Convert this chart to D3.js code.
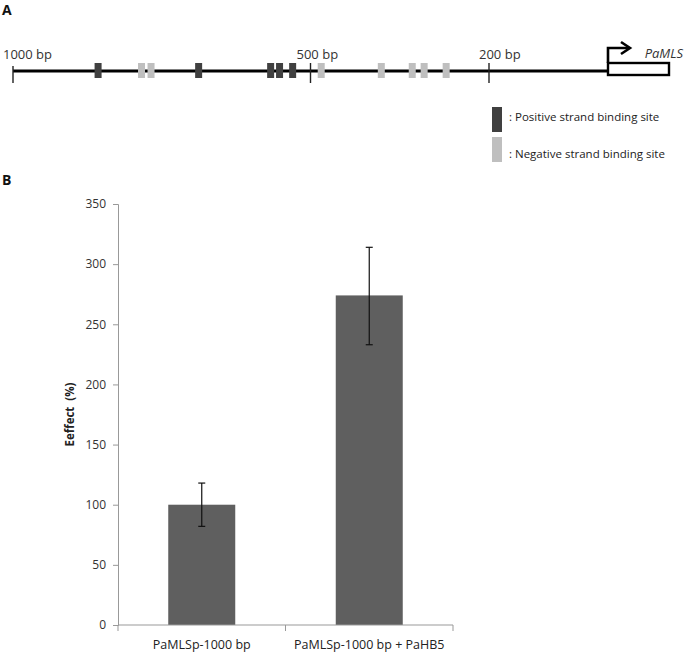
<!DOCTYPE html>
<html>
<head>
<meta charset="utf-8">
<script src="https://cdn.jsdelivr.net/npm/d3@7"></script>
<style>
  body { margin: 0; background: #fff; }
  svg { display: block; font-family: "Open Sans", sans-serif; }
</style>
</head>
<body>
<svg id="chart" width="685" height="653"></svg>
<script>
// panel A: promoter map (positions in bp upstream of the start)
const mapTicks = [1000, 500, 200];
const positiveSites = [857, 688, 567, 552, 530];
const negativeSites = [784, 768, 482, 381, 329, 309, 272];
const legendLabels = [': Positive strand binding site', ': Negative strand binding site'];

// panel B: bar chart
const categories = ['PaMLSp-1000 bp', 'PaMLSp-1000 bp + PaHB5'];
const effect = [100, 274];
const errLow = [18, 41];
const errHigh = [18, 40];
const yTicks = [0, 50, 100, 150, 200, 250, 300, 350];

const svg = d3.select('#chart');
const darkSite = '#404040', lightSite = '#bfbfbf';

// ---------- A ----------
svg.append('text').attr('x', 2).attr('y', 15)
  .attr('font-weight', 'bold').attr('font-size', 14).attr('fill', '#111').text('A');

const bp = d3.scaleLinear().domain([1000, 0]).range([13, 608]);
const lineY = 71;

svg.append('line')
  .attr('x1', bp(1000)).attr('x2', bp(0))
  .attr('y1', lineY).attr('y2', lineY)
  .attr('stroke', '#000').attr('stroke-width', 2.8);

const sites = positiveSites.map(p => ({ p, c: darkSite }))
  .concat(negativeSites.map(p => ({ p, c: lightSite })));
svg.selectAll('.site').data(sites).join('rect')
  .attr('class', 'site')
  .attr('x', d => bp(d.p) - 3.5).attr('y', lineY - 8)
  .attr('width', 7).attr('height', 15)
  .attr('fill', d => d.c);

// label offsets as placed in the figure
const labelShift = [-10, -14, -10];
const tk = svg.selectAll('.bpTick').data(mapTicks).join('g')
  .attr('class', 'bpTick')
  .attr('transform', d => `translate(${bp(d)},0)`);
tk.append('line').attr('y1', (d, i) => i === 0 ? lineY - 5 : lineY - 8).attr('y2', lineY + 12)
  .attr('stroke', '#222').attr('stroke-width', 1.4);
tk.append('text').attr('y', 59)
  .attr('dx', (d, i) => labelShift[i])
  .attr('font-size', 13).attr('fill', '#333')
  .text(d => d + ' bp');

// promoter box and arrow
const x0 = bp(0);
svg.append('rect').attr('x', x0).attr('y', lineY - 8)
  .attr('width', 61).attr('height', 12)
  .attr('fill', '#fff').attr('stroke', '#000').attr('stroke-width', 2.4);
svg.append('path')
  .attr('d', `M${x0},${lineY - 8}V${lineY - 23}H${x0 + 20}`)
  .attr('fill', 'none').attr('stroke', '#000').attr('stroke-width', 2.6);
svg.append('path')
  .attr('d', `M${x0 + 13},${lineY - 29}L${x0 + 22},${lineY - 23}L${x0 + 13},${lineY - 17}`)
  .attr('fill', 'none').attr('stroke', '#000').attr('stroke-width', 2.6);
svg.append('text').attr('x', 683).attr('y', 58)
  .attr('text-anchor', 'end').attr('font-style', 'italic')
  .attr('font-size', 13).attr('fill', '#333').text('PaMLS');

// legend
const lg = svg.selectAll('.lg').data(legendLabels).join('g')
  .attr('class', 'lg')
  .attr('transform', (d, i) => `translate(492,${107 + i * 30})`);
lg.append('rect').attr('width', 10).attr('height', 25)
  .attr('fill', (d, i) => i === 0 ? darkSite : lightSite);
lg.append('text').attr('x', 17).attr('y', (d, i) => i === 0 ? 14 : 21)
  .attr('font-size', 11.5).attr('fill', '#222').text(d => d);

// ---------- B ----------
svg.append('text').attr('x', 2).attr('y', 185)
  .attr('font-weight', 'bold').attr('font-size', 14).attr('fill', '#111').text('B');

const m = { left: 118, right: 453, top: 204, bottom: 625 };
const x = d3.scaleBand().domain(categories).range([m.left, m.right])
  .paddingInner(0.6).paddingOuter(0.3);
const y = d3.scaleLinear().domain([0, 350]).range([m.bottom, m.top]);
const axisColor = '#999';

const yAx = svg.append('g').attr('transform', `translate(${m.left},0)`)
  .call(d3.axisLeft(y).tickValues(yTicks).tickSize(5).tickPadding(7));
yAx.selectAll('path,line').attr('stroke', axisColor);
yAx.selectAll('text').attr('font-size', 12).attr('fill', '#333')
  .attr('font-family', 'Open Sans');

svg.append('text')
  .attr('transform', `translate(74,${(m.top + m.bottom) / 2}) rotate(-90)`)
  .attr('text-anchor', 'middle').attr('font-weight', 'bold')
  .style('white-space', 'pre')
  .attr('font-size', 11.5).attr('fill', '#222').text('Eeffect  (%)');

svg.selectAll('.bar').data(effect).join('rect')
  .attr('class', 'bar')
  .attr('x', (d, i) => x(categories[i])).attr('width', x.bandwidth())
  .attr('y', d => y(d)).attr('height', d => y(0) - y(d))
  .attr('fill', '#5f5f5f');

// error bars
const eb = svg.selectAll('.err').data(effect).join('g').attr('class', 'err')
  .attr('transform', (d, i) => `translate(${x(categories[i]) + x.bandwidth() / 2},0)`);
eb.append('line')
  .attr('y1', (d, i) => y(d + errHigh[i])).attr('y2', (d, i) => y(d - errLow[i]))
  .attr('stroke', '#111').attr('stroke-width', 1.2);
eb.selectAll('.cap').data((d, i) => [d + errHigh[i], d - errLow[i]]).join('line')
  .attr('class', 'cap').attr('x1', -3.5).attr('x2', 3.5)
  .attr('y1', v => y(v)).attr('y2', v => y(v))
  .attr('stroke', '#111').attr('stroke-width', 1.2);

// x axis: line with ticks at category boundaries
svg.append('line').attr('x1', m.left).attr('x2', m.right)
  .attr('y1', y(0)).attr('y2', y(0)).attr('stroke', axisColor);
const bounds = [m.left].concat(categories.map(c => x(c) + x.bandwidth() + x.step() * x.paddingInner() / 2));
bounds[bounds.length - 1] = m.right;
svg.selectAll('.xtick').data(bounds).join('line').attr('class', 'xtick')
  .attr('x1', d => d).attr('x2', d => d)
  .attr('y1', y(0)).attr('y2', y(0) + 6).attr('stroke', axisColor);
svg.selectAll('.xlab').data(categories).join('text').attr('class', 'xlab')
  .attr('x', d => x(d) + x.bandwidth() / 2).attr('y', 649)
  .attr('text-anchor', 'middle').attr('font-size', 12.5).attr('fill', '#222')
  .text(d => d);
</script>
</body>
</html>
